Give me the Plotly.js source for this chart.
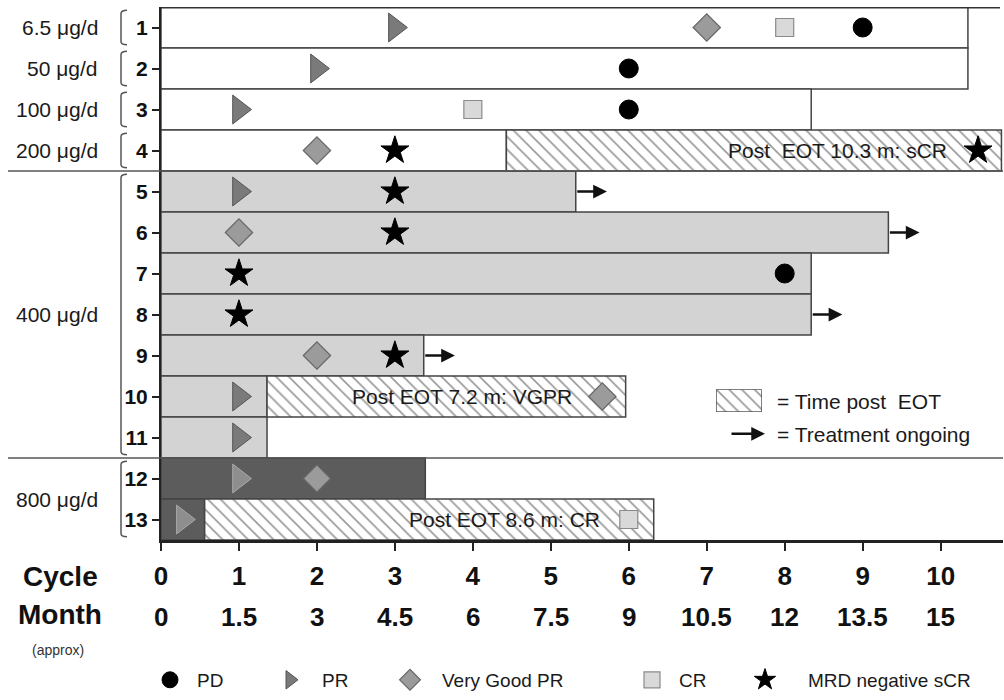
<!DOCTYPE html>
<html><head><meta charset="utf-8">
<script src="https://cdn.plot.ly/plotly-3.0.1.min.js"></script>
<style>html,body{margin:0;padding:0;background:#fff}#chart{width:1004px;height:700px}</style>
</head><body><div id="chart"></div>
<script>
// ---------------- data ----------------
const patients = [1,2,3,4,5,6,7,8,9,10,11,12,13];
const treatmentEnd = [10.35,10.35,8.34,4.43,5.32,9.33,8.34,8.34,3.37,1.36,1.36,3.39,0.56];

const doseGroups = ['6.5 μg/d','50 μg/d','100 μg/d','200 μg/d','400 μg/d','800 μg/d'];
const groupFirst = [1,2,3,4,5,12];
const groupLast  = [1,2,3,4,11,13];
const groupCohort = ['low','low','low','low','mid','high'];

const postEotPatients = [4,10,13];
const postEotEnd = [10.78,5.96,6.32];
const postEotLabels = ['Post&nbsp; EOT 10.3 m: sCR','Post EOT 7.2 m: VGPR','Post EOT 8.6 m: CR'];

const ongoingPatients = [5,6,8,9];

const pdX = [9,6,6,8],            pdY = [1,2,3,7];
const prX = [3,2,1,1,1,1,1,0.28], prY = [1,2,3,5,10,11,12,13];
const vgprX = [7,2,1,2,5.66,2],   vgprY = [1,4,6,9,10,12];
const crX = [8,4,6],              crY = [1,3,13];
const mrdX = [3,10.48,3,3,1,1,3], mrdY = [4,4,5,6,7,8,9];

const cycleTicks = [0,1,2,3,4,5,6,7,8,9,10];
const monthLabels = ['0','1.5','3','4.5','6','7.5','9','10.5','12','13.5','15'];

// ---------------- styles ----------------
const FONT = 'Liberation Sans, Arial, Helvetica, sans-serif';
const INK = '#1a1a1a';
const cohortFill = {low:'#ffffff', mid:'#d3d3d3', high:'#5c5c5c'};
const ARROW_LEN = 0.4;
const W = 1004, H = 700, ML = 161, MR = 1, MT = 7, MB = 156;
const PW = W - ML - MR, PH = H - MT - MB;
const px2paperX = px => (px - ML) / PW;
const px2paperY = py => (H - MB - py) / PH;
const hatch = {shape:'\\', fgcolor:'#9a9a9a', bgcolor:'#fff', size:9, solidity:0.18};

const groupOf = p => groupFirst.findIndex((f,i) => p >= f && p <= groupLast[i]);
const barFill = patients.map(p => cohortFill[groupCohort[groupOf(p)]]);
const onDark = p => groupCohort[groupOf(p)] === 'high';

const postEotBase = postEotPatients.map(p => treatmentEnd[p-1]);
const postEotLen = postEotEnd.map((e,i) => e - postEotBase[i]);

// ---------------- traces ----------------
const traces = [
  {type:'bar', orientation:'h', y:patients, x:treatmentEnd, base:0, width:1,
   marker:{color:barFill, line:{color:'#444', width:1.5}},
   showlegend:false, hoverinfo:'skip'},
  {type:'bar', orientation:'h', y:postEotPatients, x:postEotLen, base:postEotBase, width:1,
   name:'Time post EOT', showlegend:false,
   marker:{color:'#fff', pattern:hatch, line:{color:'#444', width:1.5}},
   hoverinfo:'skip'},
  // legend key swatch for "Time post EOT" (unit box in its own small key axes)
  {type:'bar', orientation:'h', xaxis:'x2', yaxis:'y2', y:[0], x:[1], base:0, width:1,
   showlegend:false, cliponaxis:false, hoverinfo:'skip',
   marker:{color:'#fff', pattern:hatch, line:{color:'#555', width:1.5}}},
  {type:'scatter', mode:'markers', name:'PD', x:pdX, y:pdY, legend:'legend', cliponaxis:false,
   marker:{symbol:'circle', size:19, color:'#000', line:{color:'#000', width:1}}},
  {type:'scatter', mode:'markers', name:'PR', x:prX, y:prY, legend:'legend2', cliponaxis:false,
   marker:{symbol:'triangle-right', size:25,
           color:prY.map(p => onDark(p) ? '#8e8e8e' : '#7a7a7a'),
           line:{color:prY.map(p => onDark(p) ? '#a8a8a8' : '#555'), width:1}}},
  {type:'scatter', mode:'markers', name:'Very Good PR', x:vgprX, y:vgprY, legend:'legend3', cliponaxis:false,
   marker:{symbol:'diamond', size:21, color:'#9b9b9b', line:{color:'#666', width:1.2}}},
  {type:'scatter', mode:'markers', name:'CR', x:crX, y:crY, legend:'legend4', cliponaxis:false,
   marker:{symbol:'square', size:18, color:'#d9d9d9', line:{color:'#8a8a8a', width:1.2}}},
  {type:'scatter', mode:'markers', name:'MRD negative sCR', x:mrdX, y:mrdY, legend:'legend5', cliponaxis:false,
   marker:{symbol:'star', size:21, color:'#000', line:{color:'#000', width:1}}}
];

// ---------------- annotations ----------------
const annotations = [];
doseGroups.forEach((g,i) => {
  annotations.push({text:g, xref:'paper', x:0, xanchor:'right', xshift:-61,
    yref:'y', y:(groupFirst[i]+groupLast[i])/2, yanchor:'middle', showarrow:false,
    font:{family:FONT, size:21, color:INK}});
});
postEotPatients.forEach((p,i) => {
  annotations.push({text:postEotLabels[i], xref:'x', x:postEotEnd[i], xanchor:'right', xshift:-52,
    yref:'y', y:p, yanchor:'middle', showarrow:false, font:{family:FONT, size:21, color:INK}});
});
ongoingPatients.forEach(p => {
  const e = treatmentEnd[p-1];
  annotations.push({text:'', xref:'x', yref:'y', x:e+ARROW_LEN, y:p, axref:'x', ayref:'y', ax:e, ay:p,
    showarrow:true, arrowhead:2, arrowsize:1.1, arrowwidth:2.5, arrowcolor:'#111'});
});
cycleTicks.forEach((c,i) => {
  annotations.push({text:monthLabels[i], xref:'x', x:c, xanchor:'center', yref:'paper', y:px2paperY(622),
    yanchor:'middle', showarrow:false, font:{family:FONT, size:26, color:'#111', weight:'bold'}});
});
annotations.push(
  {text:'Cycle', xref:'paper', x:px2paperX(60), xanchor:'center', yref:'paper', y:px2paperY(581), yanchor:'middle',
   showarrow:false, font:{family:FONT, size:28, color:'#111', weight:'bold'}},
  {text:'Month', xref:'paper', x:px2paperX(60), xanchor:'center', yref:'paper', y:px2paperY(619), yanchor:'middle',
   showarrow:false, font:{family:FONT, size:28, color:'#111', weight:'bold'}},
  {text:'(approx)', xref:'paper', x:px2paperX(58), xanchor:'center', yref:'paper', y:px2paperY(655), yanchor:'middle',
   showarrow:false, font:{family:FONT, size:14, color:'#333'}},
  {text:'= Time post&nbsp; EOT', xref:'paper', x:px2paperX(775), xanchor:'left', yref:'paper', y:px2paperY(404),
   yanchor:'middle', showarrow:false, font:{family:FONT, size:21, color:INK}},
  {text:'', xref:'paper', yref:'paper', x:px2paperX(765), y:px2paperY(437), ax:-35, ay:0,
   showarrow:true, arrowhead:2, arrowsize:1.1, arrowwidth:2.5, arrowcolor:'#111'},
  {text:'= Treatment ongoing', xref:'paper', x:px2paperX(775), xanchor:'left', yref:'paper', y:px2paperY(438),
   yanchor:'middle', showarrow:false, font:{family:FONT, size:21, color:INK}}
);

// ---------------- shapes ----------------
const shapes = [];
doseGroups.forEach((g,i) => {
  const y0 = groupFirst[i]-0.42, y1 = groupLast[i]+0.42;
  shapes.push({type:'path', xref:'paper', xsizemode:'pixel', xanchor:0, yref:'y',
    path:`M -34,${y0} Q -40,${y0} -40,${y0+0.08} L -40,${y1-0.08} Q -40,${y1} -34,${y1}`,
    line:{color:'#555', width:1.5}});
});
for (let i = 1; i < doseGroups.length; i++) {
  if (groupCohort[i] !== groupCohort[i-1]) {
    const y = groupFirst[i]-0.5;
    shapes.push({type:'line', xref:'paper', x0:px2paperX(8), x1:1, yref:'y', y0:y, y1:y,
      line:{color:'#555', width:1.5}});
  }
}
shapes.push({type:'line', xref:'paper', x0:0, x1:px2paperX(1000), yref:'y', y0:0.5, y1:0.5,
  line:{color:'#333', width:3}});

// ---------------- legends ----------------
const legFont = {family:FONT, size:19, color:INK};
const legY = px2paperY(685);
const mkLeg = (px, iw) => ({x:px2paperX(px), y:legY, xanchor:'left', yanchor:'middle', orientation:'h',
  bgcolor:'rgba(0,0,0,0)', borderwidth:0, font:legFont, itemwidth:iw});

const layout = {
  width:W, height:H,
  margin:{l:ML, r:MR, t:MT, b:MB, pad:0},
  paper_bgcolor:'#fff', plot_bgcolor:'#fff',
  barmode:'overlay', bargap:0,
  xaxis:{range:[0,10.8], tickmode:'array', tickvals:cycleTicks, ticktext:cycleTicks.map(String),
    ticks:'outside', ticklen:8, tickwidth:2, tickcolor:'#222', showline:true, linecolor:'#222', linewidth:2.5,
    showgrid:false, zeroline:false, ticklabelstandoff:3, fixedrange:true,
    tickfont:{family:FONT, size:26, color:'#111', weight:'bold'}},
  yaxis:{range:[13.5,0.5], tickmode:'array', tickvals:patients, ticktext:patients.map(String),
    ticks:'outside', ticklen:7, tickwidth:2, tickcolor:'#222', showline:true, linecolor:'#222', linewidth:2,
    showgrid:false, zeroline:false, fixedrange:true,
    tickfont:{family:FONT, size:21, color:'#111', weight:'bold'}},
  xaxis2:{domain:[px2paperX(716), px2paperX(762)], range:[0,1], visible:false, anchor:'y2', fixedrange:true},
  yaxis2:{domain:[px2paperY(415), px2paperY(392)], range:[-0.5,0.5], visible:false, anchor:'x2', fixedrange:true},
  legend: mkLeg(143, 44),
  legend2: mkLeg(258, 54),
  legend3: mkLeg(378, 54),
  legend4: mkLeg(625, 44),
  legend5: mkLeg(722, 76),
  annotations, shapes,
  font:{family:FONT, color:INK},
  showlegend:true
};

Plotly.newPlot('chart', traces, layout, {displayModeBar:false, staticPlot:true});
</script>
</body></html>
